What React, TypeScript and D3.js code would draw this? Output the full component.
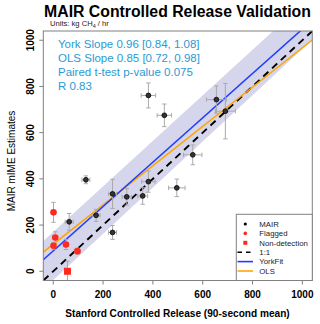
import React from "react";
import * as d3 from "d3";

// ---- data ----
const mairX = [64, 131, 172, 238, 238, 295, 359, 382, 382, 446, 560, 496, 655, 691];
const mairY = [214, 396, 242, 335, 168, 322, 326, 388, 761, 675, 504, 361, 743, 693];
const mairXErr = [16, 16, 16, 16, 16, 19, 20, 27, 29, 29, 37, 33, 40, 40];
const mairYErr = [36, 17, 26, 63, 30, 36, 36, 46, 54, 49, 43, 38, 59, 120];

const flagX = [1, 8, 1, 51, 97];
const flagY = [255, 146, 110, 116, 87];
const flagXErr = [8, 8, 8, 10, 12];
const flagYErr = [43, 25, 15, 22, 13];

const ndX = [57];
const ndY = [0];
const ndYErr = [43];

const yorkSlope = 0.96;
const yorkIntercept = 88;
const olsSlope = 0.85;
const olsIntercept = 117;

const bandX = [-40, 1040];
const bandUpper = [131, 1195];
const bandLower = [-78, 1002];

const xTicks = [0, 200, 400, 600, 800, 1000];
const yTicks = [0, 200, 400, 600, 800, 1000];

const statLines = [
  "York Slope 0.96 [0.84, 1.08]",
  "OLS Slope 0.85 [0.72, 0.98]",
  "Paired t-test p-value 0.075",
  "R 0.83",
];

const legendLabels = ["MAIR", "Flagged", "Non-detection", "1:1", "YorkFit", "OLS"];

// ---- layout ----
const W = 320;
const H = 324;
const L = 43.3, R = 312.3, T = 31, B = 280.5;
const FONT = "'Liberation Sans', Arial, Helvetica, sans-serif";

export default function App() {
  const x = d3.scaleLinear().domain([-40, 1040]).range([L, R]);
  const y = d3.scaleLinear().domain([-40, 1040]).range([B, T]);

  const bandPts: [number, number][] = [
    ...bandX.map((v, i) => [v, bandUpper[i]] as [number, number]),
    ...bandX.map((v, i) => [v, bandLower[i]] as [number, number]).reverse(),
  ];
  const bandPath =
    d3.line<[number, number]>().x((d) => x(d[0])).y((d) => y(d[1]))(bandPts) + "Z";

  const fitLine = (a: number, b: number) =>
    d3.line<number>().x((d) => x(d)).y((d) => y(a + b * d))([-40, 1040]) || "";

  const errColor = "#aaaaaa";
  const cap = 2.2;
  const errBars = (
    xs: number[], ys: number[], xe: number[] | null, ye: number[], key: string
  ) =>
    xs.map((xv, i) => {
      const cx = x(xv), cy = y(ys[i]);
      const y0 = y(ys[i] - ye[i]), y1 = y(ys[i] + ye[i]);
      const els = [
        <line key="v" x1={cx} x2={cx} y1={y0} y2={y1} />,
        <line key="vc0" x1={cx - cap} x2={cx + cap} y1={y0} y2={y0} />,
        <line key="vc1" x1={cx - cap} x2={cx + cap} y1={y1} y2={y1} />,
      ];
      if (xe) {
        const x0 = x(xv - xe[i]), x1 = x(xv + xe[i]);
        els.push(
          <line key="h" x1={x0} x2={x1} y1={cy} y2={cy} />,
          <line key="hc0" x1={x0} x2={x0} y1={cy - cap} y2={cy + cap} />,
          <line key="hc1" x1={x1} x2={x1} y1={cy - cap} y2={cy + cap} />
        );
      }
      return <g key={key + i}>{els}</g>;
    });

  const legX0 = 236.3;
  const legY0 = 214.3;
  const rowY = (i: number) => 224 + i * 9.4;

  return (
    <svg
      width={W}
      height={H}
      style={{ position: "fixed", left: 0, top: 0, background: "#fff" }}
      fontFamily={FONT}
    >
      <rect x={0} y={0} width={W} height={H} fill="#fff" />
      <defs>
        <clipPath id="plotclip">
          <rect x={L} y={T} width={R - L} height={B - T} />
        </clipPath>
      </defs>

      {/* title */}
      <text x={177.5} y={17.3} textAnchor="middle" fontSize={15.8} fontWeight="bold" fill="#000">
        MAIR Controlled Release Validation
      </text>
      <text x={50} y={26} fontSize={7.6} fill="#222">
        Units: kg CH<tspan fontSize={5.4} dy={1.8}>4</tspan>
        <tspan dy={-1.8}> / hr</tspan>
      </text>

      <g clipPath="url(#plotclip)">
        <path d={bandPath} fill="#d5d5eb" />
        <path d={fitLine(0, 1)} stroke="#000" strokeWidth={1.9} strokeDasharray="7,5" fill="none" />
        <path d={fitLine(olsIntercept, olsSlope)} stroke="#ffa500" strokeWidth={1.5} fill="none" />
        <path d={fitLine(yorkIntercept, yorkSlope)} stroke="#1f3dff" strokeWidth={1.5} fill="none" />

        <g stroke={errColor} strokeWidth={1}>
          {errBars(mairX, mairY, mairXErr, mairYErr, "m")}
          {errBars(flagX, flagY, flagXErr, flagYErr, "f")}
          {errBars(ndX, ndY, null, ndYErr, "n")}
        </g>

        {mairX.map((v, i) => (
          <circle key={"mp" + i} cx={x(v)} cy={y(mairY[i])} r={2.4} fill="#333" stroke="#000" strokeWidth={0.8} />
        ))}
        {flagX.map((v, i) => (
          <circle key={"fp" + i} cx={x(v)} cy={y(flagY[i])} r={3.3} fill="#ff2a1f" />
        ))}
        {ndX.map((v, i) => (
          <rect key={"np" + i} x={x(v) - 3.5} y={y(ndY[i]) - 3.5} width={7} height={7} fill="#ff2a1f" />
        ))}
      </g>

      {/* stats text */}
      {statLines.map((s, i) => (
        <text key={s} x={58} y={47.7 + i * 14.2} fontSize={11.5} fill="#2a9ad4">
          {s}
        </text>
      ))}

      {/* plot box */}
      <rect x={L} y={T} width={R - L} height={B - T} fill="none" stroke="#808080" strokeWidth={1} />

      {/* x axis */}
      {xTicks.map((t) => (
        <g key={"xt" + t}>
          <line x1={x(t)} x2={x(t)} y1={B} y2={B + 4} stroke="#808080" />
          <text x={x(t)} y={297.5} textAnchor="middle" fontSize={10} fontWeight="bold" fill="#000">
            {t}
          </text>
        </g>
      ))}
      <line x1={x(0)} x2={x(1000)} y1={B} y2={B} stroke="#808080" />
      <text x={177.5} y={316.7} textAnchor="middle" fontSize={10.1} fontWeight="bold" fill="#000">
        Stanford Controlled Release (90-second mean)
      </text>

      {/* y axis */}
      {yTicks.map((t) => (
        <g key={"yt" + t}>
          <line x1={L - 4} x2={L} y1={y(t)} y2={y(t)} stroke="#808080" />
          <text
            transform={`translate(${33.5},${y(t)}) rotate(-90)`}
            textAnchor="middle"
            fontSize={10}
            fontWeight="bold"
            fill="#000"
          >
            {t}
          </text>
        </g>
      ))}
      <text
        transform={`translate(${15},${161}) rotate(-90)`}
        textAnchor="middle"
        fontSize={10}
        fill="#000"
      >
        MAIR mIME Estimates
      </text>

      {/* legend */}
      <rect x={legX0} y={legY0} width={R - legX0} height={B - legY0} fill="#fff" stroke="#808080" strokeWidth={1} />
      <circle cx={245.3} cy={rowY(0)} r={1.6} fill="#000" />
      <circle cx={245.3} cy={rowY(1)} r={1.8} fill="#ff2a1f" />
      <rect x={245.3 - 2} y={rowY(2) - 2} width={4} height={4} fill="#ff2a1f" />
      <line x1={237.5} x2={253} y1={rowY(3)} y2={rowY(3)} stroke="#000" strokeWidth={1.6} strokeDasharray="4.5,4" />
      <line x1={237.5} x2={253} y1={rowY(4)} y2={rowY(4)} stroke="#1f3dff" strokeWidth={1.6} />
      <line x1={237.5} x2={253} y1={rowY(5)} y2={rowY(5)} stroke="#ffa500" strokeWidth={1.6} />
      {legendLabels.map((s, i) => (
        <text key={s} x={259.3} y={rowY(i) + 2.8} fontSize={7.8} fill="#222">
          {s}
        </text>
      ))}
    </svg>
  );
}
